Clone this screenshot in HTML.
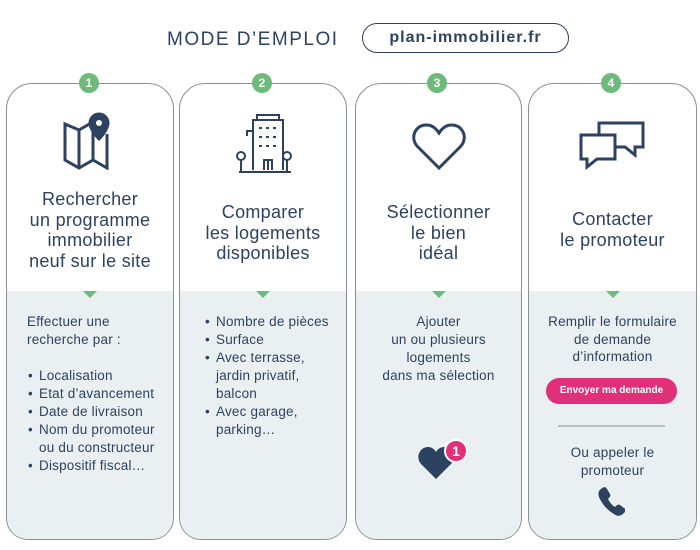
<!DOCTYPE html><html><head><meta charset="utf-8"><style>
body{margin:0;width:700px;height:550px;background:#fff;font-family:"Liberation Sans",sans-serif;color:#2d4260;position:relative;overflow:hidden}
.a{position:absolute}
.card{position:absolute;top:83px;height:455px;border:1px solid #8a8f96;border-radius:26px 26px 22px 22px;overflow:hidden;background:#fff}
.low{position:absolute;left:0;right:0;top:207px;bottom:0;background:#eaf0f1}
.tri{position:absolute;top:207px;left:50%;margin-left:-7px;width:0;height:0;border-left:7px solid transparent;border-right:7px solid transparent;border-top:7px solid #6dba7a}
.badge{position:absolute;top:73px;width:20px;height:20px;border-radius:50%;background:#6dba7a;color:#fff;font-weight:bold;font-size:12px;text-align:center;line-height:20px}
.t{position:absolute;left:-10px;right:-10px;text-align:center;font-size:18px;letter-spacing:0.3px;line-height:20.5px}
.b{position:absolute;font-size:13.5px;letter-spacing:0.2px;line-height:18px;white-space:nowrap}
ul{margin:0;padding-left:12px}li{list-style:none;position:relative}li:before{content:"•";position:absolute;left:-11px}
</style></head><body>
<div class="a" style="left:167px;top:29px;font-size:19px;letter-spacing:1.5px">MODE D’EMPLOI</div>
<div class="a" style="left:362px;top:23px;width:205px;height:28px;border:1.5px solid #2d4260;border-radius:15px;text-align:center;line-height:28px;font-size:16px;font-weight:bold;letter-spacing:1px">plan-immobilier.fr</div>

<div class="card" style="left:6px;width:166px"><div class="low"></div><div class="tri"></div>
<svg class="a" style="left:56px;top:28px" width="56" height="58" viewBox="0 0 56 58" fill="none" stroke="#2d4260" stroke-width="3"><path d="M2 12 L16 18 L30 10 L30 48 L16 56 L2 48Z M16 18 V56 M30 48 L44 56 V22"/><path d="M36 2a9 9 0 0 1 9 9c0 7-9 16-9 16s-9-9-9-16a9 9 0 0 1 9-9z" fill="#2d4260"/><circle cx="36" cy="11" r="3" fill="#fff" stroke="none"/></svg>
<div class="t" style="top:105px">Rechercher<br>un programme<br>immobilier<br>neuf sur le site</div>
<div class="b" style="left:20px;top:229px">Effectuer une<br>recherche par :<br><br><ul><li>Localisation</li><li>Etat d’avancement</li><li>Date de livraison</li><li>Nom du promoteur<br>ou du constructeur</li><li>Dispositif fiscal…</li></ul></div></div>

<div class="card" style="left:179px;width:166px"><div class="low"></div><div class="tri"></div>
<svg class="a" style="left:53px;top:30px" width="60" height="60" viewBox="0 0 60 60" fill="none" stroke="#2d4260" stroke-width="2"><path d="M20 56V6h30v50M24 6V1h22v5M6 58h52M31 56V46h8v10M35 46v10"/><path d="M26 14h3M33 14h3M40 14h3M26 23h3M33 23h3M40 23h3M26 32h3M33 32h3M40 32h3M14 22v-5h6"/><circle cx="8" cy="42" r="4"/><circle cx="54" cy="42" r="4"/><path d="M8 46v12M54 46v12"/></svg>
<div class="t" style="top:118px">Comparer<br>les logements<br>disponibles</div>
<div class="b" style="left:24px;top:229px"><ul><li>Nombre de pièces</li><li>Surface</li><li>Avec terrasse,<br>jardin privatif,<br>balcon</li><li>Avec garage,<br>parking…</li></ul></div></div>

<div class="card" style="left:355px;width:165px"><div class="low"></div><div class="tri"></div>
<svg class="a" style="left:55px;top:38px" width="56" height="50" viewBox="0 0 56 50" fill="none" stroke="#2d4260" stroke-width="3"><path d="M28 46L6 24C-2 14 6 2 16 3c6 0 10 5 12 8c2-3 6-8 12-8c10-1 18 11 10 21Z"/></svg>
<div class="t" style="top:118px">Sélectionner<br>le bien<br>idéal</div>
<div class="b" style="left:0;right:0;text-align:center;top:229px">Ajouter<br>un ou plusieurs<br>logements<br>dans ma sélection</div>
<svg class="a" style="left:62px;top:355px" width="50" height="42" viewBox="0 0 50 42"><path d="M18 40L3 25C-3 18 2 8 10 8c4 0 7 3 8 5c1-2 4-5 8-5c8 0 13 10 7 17Z" fill="#2d4260"/><circle cx="38" cy="12" r="11" fill="#e1307a" stroke="#fff" stroke-width="2"/><text x="38" y="17" text-anchor="middle" fill="#fff" font-weight="bold" font-size="14" font-family="Liberation Sans">1</text></svg></div>

<div class="card" style="left:528px;width:167px"><div class="low"></div><div class="tri"></div>
<svg class="a" style="left:48px;top:35px" width="70" height="55" viewBox="0 0 70 55" fill="none" stroke="#2d4260" stroke-width="3"><path d="M4 16h34v24H20l-10 8v-8H4Z"/><path d="M22 16V4h44v24h-8v8l-10-8H38"/></svg>
<div class="t" style="top:125px">Contacter<br>le promoteur</div>
<div class="b" style="left:0;right:0;text-align:center;top:229px;line-height:17.5px">Remplir le formulaire<br>de demande<br>d’information</div>
<div class="a" style="left:17px;top:294px;width:131px;height:26px;border-radius:13px;background:#e1307a;color:#fff;font-size:10px;font-weight:bold;text-align:center;line-height:26px">Envoyer ma demande</div>
<div class="a" style="left:29px;top:341px;width:107px;height:2px;background:#b8c0c4"></div>
<div class="b" style="left:0;right:0;text-align:center;top:360px">Ou appeler le<br>promoteur</div>
<svg class="a" style="left:68px;top:402px" width="28" height="30" viewBox="0 0 28 30"><path d="M4 3c3-3 5-2 6 0l3 5c1 2 0 3-2 5c2 4 4 6 7 8c2-2 3-3 5-2l4 3c2 1 2 3 0 5c-3 3-6 4-10 1C10 24 5 18 2 11C1 8 1 5 4 3Z" fill="#2d4260"/></svg></div>

<div class="badge" style="left:79px">1</div>
<div class="badge" style="left:252px">2</div>
<div class="badge" style="left:427px">3</div>
<div class="badge" style="left:601px">4</div>
</body></html>
